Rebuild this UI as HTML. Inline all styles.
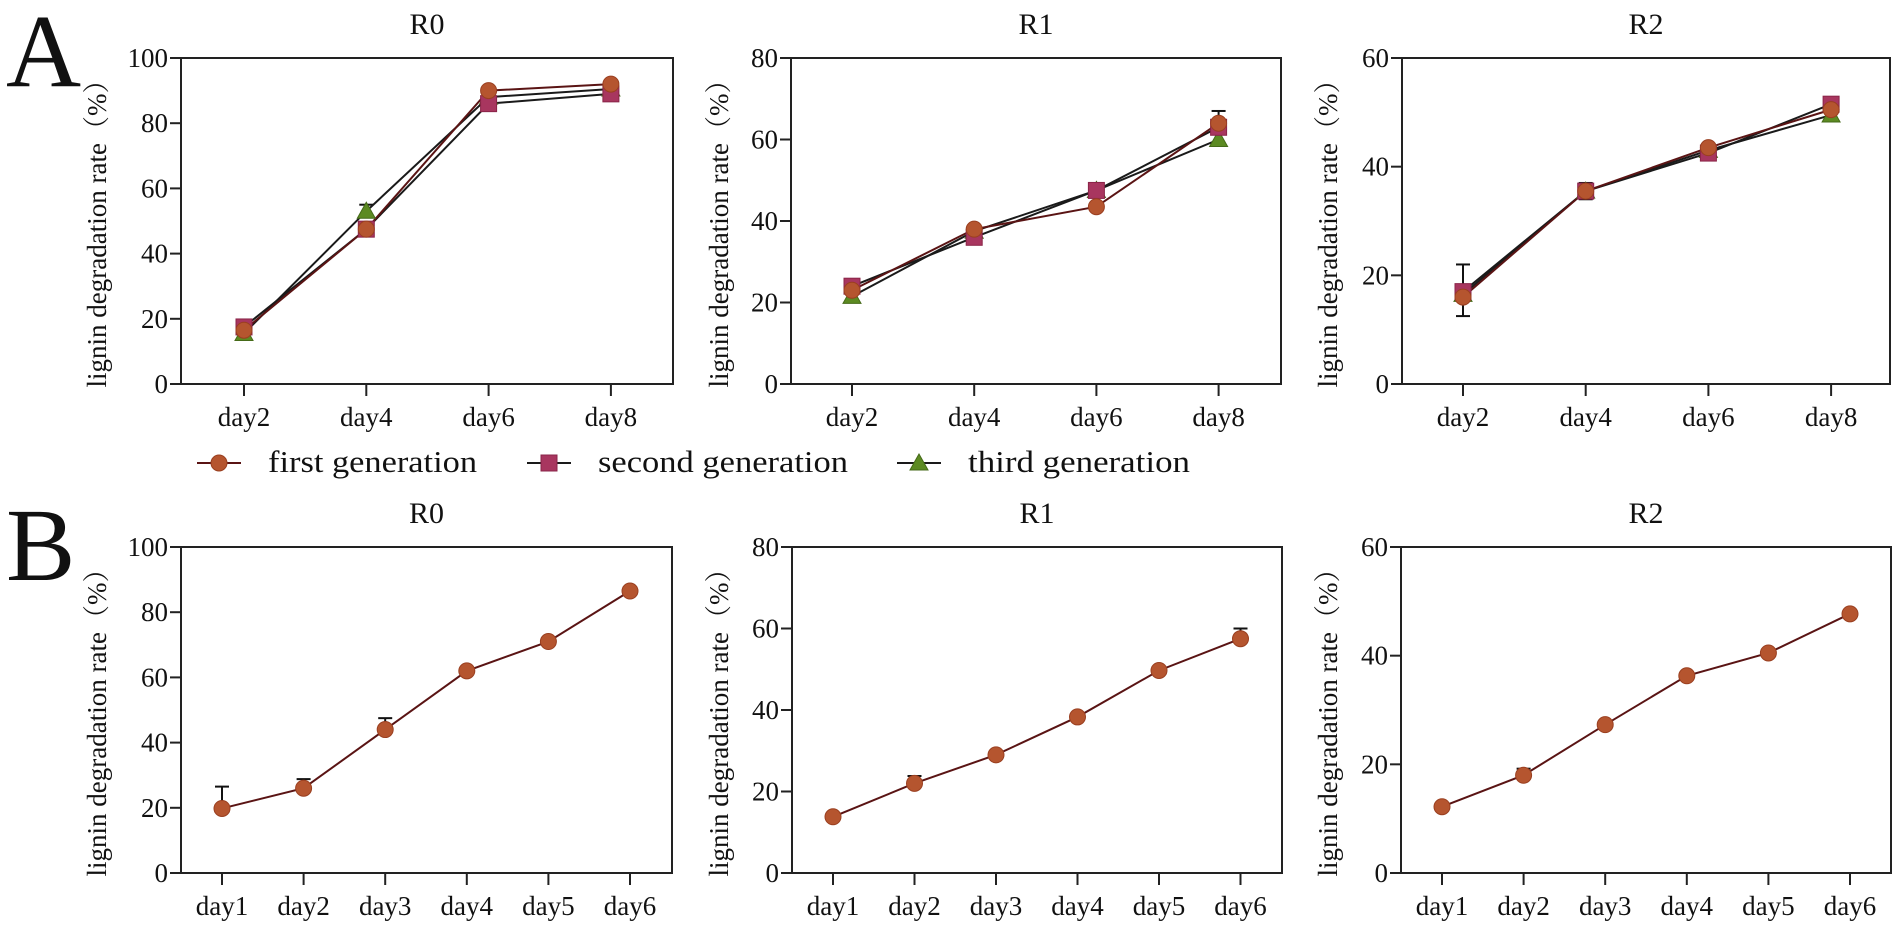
<!DOCTYPE html>
<html><head><meta charset="utf-8">
<style>
html,body{margin:0;padding:0;background:#fff;}
svg{display:block;}
svg text{font-family:"Liberation Serif","Noto Serif CJK SC",serif;fill:#111;}
</style></head>
<body>
<svg id="fig" width="1902" height="930" viewBox="0 0 1902 930" xmlns="http://www.w3.org/2000/svg">
<text x="6" y="86" font-size="104" font-family="Liberation Serif, serif">A</text>
<text x="6" y="580" font-size="104" font-family="Liberation Serif, serif">B</text>
<g id="legend"></g>
</svg>
<script>
// ---- data ----
const catsA = ["day2","day4","day6","day8"];
const catsB = ["day1","day2","day3","day4","day5","day6"];
const seriesNames = ["first generation","second generation","third generation"];
const titles = ["R0","R1","R2"];
const yMaxes = [100,80,60];
const yTicksR0 = [0,20,40,60,80,100];
const yTicksR1 = [0,20,40,60,80];
const yTicksR2 = [0,20,40,60];
// Panel A values
const aR0First  = [16.5,47.5,90,92];
const aR0Second = [17.5,47.5,86,89];
const aR0Third  = [15.5,53,88,90.5];
const aR0ThirdErr = [16,55,88.5,91];
const aR1First  = [23,38,43.5,64];
const aR1Second = [24,36,47.5,63];
const aR1Third  = [21.5,37.5,47.5,60];
const aR1FirstErr = [23.5,38.5,44,67];
const aR2First  = [16,35.5,43.5,50.5];
const aR2Second = [17,35.5,42.5,51.5];
const aR2Third  = [16.5,35.5,43,49.5];
const aR2ErrHi  = [22,37,44,52.5];
const aR2ErrLo  = [12.5,34,42.5,50];
// Panel B values
const bR0 = [19.8,26,44,62,71,86.5];
const bR0Err = [26.5,28.8,47.5,62.5,71.5,87];
const bR1 = [13.8,22,29,38.3,49.7,57.5];
const bR1Err = [14,23.8,29.5,38.8,50,60];
const bR2 = [12.2,18,27.3,36.3,40.5,47.7];
const bR2Err = [12.5,19.2,27.5,36.5,41,48];

const NS="http://www.w3.org/2000/svg";
const svg=document.getElementById('fig');
const FF='"Liberation Serif","Noto Serif CJK SC",serif';
function mk(tag,attrs,parent){const e=document.createElementNS(NS,tag);for(const k in attrs)e.setAttribute(k,attrs[k]);if(tag==='text')e.setAttribute('font-family',FF);(parent||svg).appendChild(e);return e;}

const COL={first:"#B5552F",second:"#A8365F",third:"#5C8A22"};
const LINE={first:"#5A1414",second:"#1a1a1a",third:"#1a1a1a"};

function marker(type,x,y,g){
  let m;
  if(type==="first"){m=mk('circle',{cx:x,cy:y,r:8,fill:COL.first,stroke:"#9a3f20","stroke-width":1},g);}
  else if(type==="second"){m=mk('rect',{x:x-8,y:y-8,width:16,height:16,fill:COL.second,stroke:"#8a2448","stroke-width":1},g);}
  else {m=mk('polygon',{points:`${x},${y-9} ${x-9},${y+7} ${x+9},${y+7}`,fill:COL.third,stroke:"#456a18","stroke-width":1},g);}
  return m;
}

function panel(cfg){
  const g=mk('g',{});
  
  
  const {L,R,T,B,ymax,ticks,cats,x0,dx}=cfg;
  const ys=v=>B-(v/ymax)*(B-T);
  const xs=i=>x0+i*dx;
  const fr=mk('rect',{x:L,y:T,width:R-L,height:B-T,fill:"none",stroke:"#222","stroke-width":2},g);
  
  
  const t=mk('text',{x:(L+R)/2,y:T-24,"font-size":30,"text-anchor":"middle"},g);t.textContent=cfg.title;
  
  
  ticks.forEach(v=>{
    mk('line',{x1:L-11,x2:L,y1:ys(v),y2:ys(v),stroke:"#222","stroke-width":2},g);
    const tl=mk('text',{x:L-13,y:ys(v)+9,"font-size":27,"text-anchor":"end"},g);tl.textContent=v;
    
    
  });
  cats.forEach((c,i)=>{
    mk('line',{x1:xs(i),x2:xs(i),y1:B,y2:B+12,stroke:"#222","stroke-width":2},g);
    const tl=mk('text',{x:xs(i),y:B+42,"font-size":27,"text-anchor":"middle"},g);tl.textContent=c;
    
    
  });
  const cy=(T+B)/2+6;
  const yt=mk('text',{x:cfg.yx,y:cy,"font-size":27,"text-anchor":"middle",transform:`rotate(-90 ${cfg.yx} ${cy})`},g);
  yt.textContent="lignin degradation rate（%）";
  
  
  (cfg.errs||[]).forEach(e=>{
    e.hi.forEach((v,i)=>{
      const lo=e.lo?e.lo[i]:e.base[i];
      if(Math.abs(v-lo)<0.8)return;
      mk('line',{x1:xs(i),x2:xs(i),y1:ys(v),y2:ys(lo),stroke:"#111","stroke-width":2},g);
      mk('line',{x1:xs(i)-7,x2:xs(i)+7,y1:ys(v),y2:ys(v),stroke:"#111","stroke-width":2},g);
      if(e.lo) mk('line',{x1:xs(i)-7,x2:xs(i)+7,y1:ys(lo),y2:ys(lo),stroke:"#111","stroke-width":2},g);
    });
  });
  cfg.series.slice().reverse().forEach(s=>{
    const pts=s.vals.map((v,i)=>`${xs(i)},${ys(v)}`).join(' ');
    const pl=mk('polyline',{points:pts,fill:"none",stroke:LINE[s.type],"stroke-width":2},g);
    
    
  });
  const order=["third","second","first"];
  order.forEach(tp=>{
    const s=cfg.series.find(q=>q.type===tp); if(!s)return;
    s.vals.forEach((v,i)=>{
      const m=marker(tp,xs(i),ys(v),g);
      
      
    });
  });
}

const AT=58,AB=384,BT=547,BB=873;
panel({name:"panel-a-r0",title:titles[0],L:181,R:673,T:AT,B:AB,ymax:yMaxes[0],ticks:yTicksR0,cats:catsA,x0:244,dx:122.3,yx:106,
  series:[{type:"first",vals:aR0First},{type:"second",vals:aR0Second},{type:"third",vals:aR0Third}],
  errs:[{hi:aR0ThirdErr,base:aR0Third}]});
panel({name:"panel-a-r1",title:titles[1],L:791,R:1281,T:AT,B:AB,ymax:yMaxes[1],ticks:yTicksR1,cats:catsA,x0:852,dx:122.2,yx:728,
  series:[{type:"first",vals:aR1First},{type:"second",vals:aR1Second},{type:"third",vals:aR1Third}],
  errs:[{hi:aR1FirstErr,base:aR1First}]});
panel({name:"panel-a-r2",title:titles[2],L:1402,R:1890,T:AT,B:AB,ymax:yMaxes[2],ticks:yTicksR2,cats:catsA,x0:1463,dx:122.7,yx:1337,
  series:[{type:"first",vals:aR2First},{type:"second",vals:aR2Second},{type:"third",vals:aR2Third}],
  errs:[{hi:aR2ErrHi,lo:aR2ErrLo}]});
panel({name:"panel-b-r0",title:titles[0],L:181,R:672,T:BT,B:BB,ymax:yMaxes[0],ticks:yTicksR0,cats:catsB,x0:222,dx:81.6,yx:106,
  series:[{type:"first",vals:bR0}],errs:[{hi:bR0Err,base:bR0}]});
panel({name:"panel-b-r1",title:titles[1],L:792,R:1282,T:BT,B:BB,ymax:yMaxes[1],ticks:yTicksR1,cats:catsB,x0:833,dx:81.5,yx:728,
  series:[{type:"first",vals:bR1}],errs:[{hi:bR1Err,base:bR1}]});
panel({name:"panel-b-r2",title:titles[2],L:1401,R:1891,T:BT,B:BB,ymax:yMaxes[2],ticks:yTicksR2,cats:catsB,x0:1442,dx:81.6,yx:1337,
  series:[{type:"first",vals:bR2}],errs:[{hi:bR2Err,base:bR2}]});

const lg=document.getElementById('legend');
const legX=[219,549,919];
const legTextX=[268,598,968];
const legW=[209,250,222];
const types=["first","second","third"];
types.forEach((tp,i)=>{
  const g=mk('g',{},lg);
  
  
  mk('line',{x1:legX[i]-22,x2:legX[i]+22,y1:463,y2:463,stroke:LINE[tp],"stroke-width":2},g);
  marker(tp,legX[i],463,g);
  const t=mk('text',{x:legTextX[i],y:472,"font-size":31,textLength:legW[i],lengthAdjust:"spacingAndGlyphs"},g);
  t.textContent=seriesNames[i];
});
</script>
</body></html>
